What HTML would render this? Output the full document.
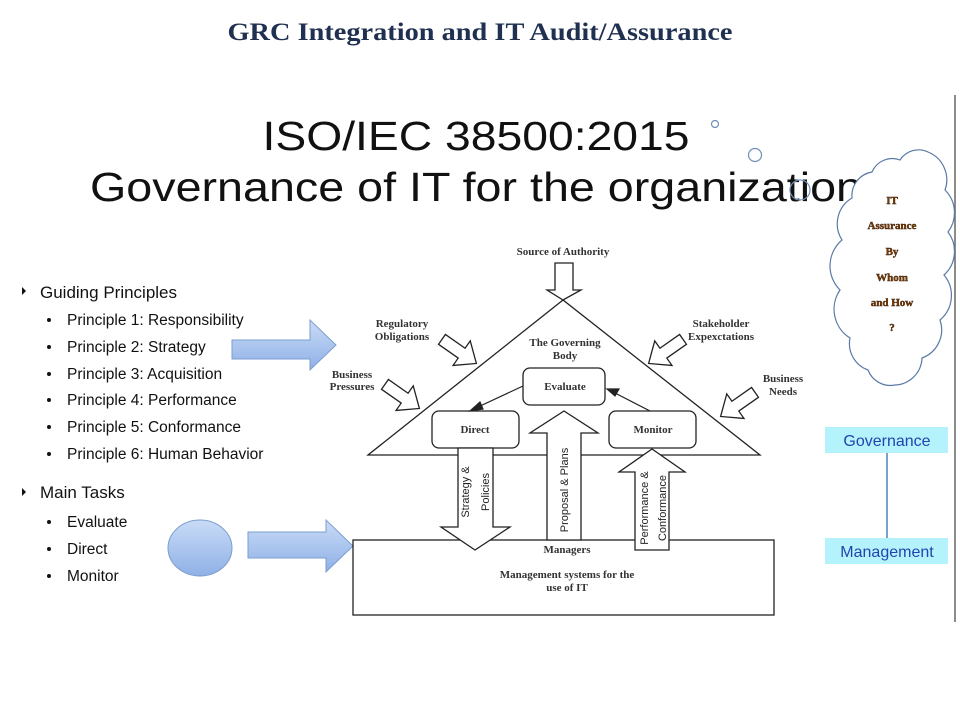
<!DOCTYPE html>
<html><head><meta charset="utf-8"><style>
html,body{margin:0;padding:0;background:#fff;}
svg{display:block;}
</style></head><body>
<svg width="960" height="720" viewBox="0 0 960 720" xmlns="http://www.w3.org/2000/svg">
<rect width="960" height="720" fill="#fff"/>
<text x="480" y="40" text-anchor="middle" font-family="Liberation Serif, serif" font-weight="bold" font-size="25" fill="#1f3050" textLength="505" lengthAdjust="spacingAndGlyphs">GRC Integration and IT Audit/Assurance</text>
<text x="476" y="150" text-anchor="middle" font-family="Liberation Sans, sans-serif" font-size="41" fill="#111" textLength="427" lengthAdjust="spacingAndGlyphs">ISO/IEC 38500:2015</text>
<text x="476" y="201" text-anchor="middle" font-family="Liberation Sans, sans-serif" font-size="41" fill="#111" textLength="772" lengthAdjust="spacingAndGlyphs">Governance of IT for the organization</text>
<line x1="955" y1="95" x2="955" y2="622" stroke="#666" stroke-width="1.5"/>
<g fill="none" stroke="#6f8fb8" stroke-width="1.2">
<circle cx="715" cy="124" r="3.5"/><circle cx="755" cy="155" r="6.5"/><circle cx="800" cy="190" r="10"/>
<path d="M872,172 A22,22 0 0 1 900,160 A22,22 0 0 1 928,152 A30,30 0 0 1 945,190 A32,32 0 0 1 948,232 A32,32 0 0 1 944,275 A32,32 0 0 1 940,320 A30,30 0 0 1 922,358 A28,28 0 0 1 895,385 A24,24 0 0 1 868,370 A28,28 0 0 1 850,338 A34,34 0 0 1 840,290 A34,34 0 0 1 842,240 A30,30 0 0 1 852,198 A24,24 0 0 1 872,172 Z" fill="#fff" stroke="#5a7aa5"/>
</g>
<g font-family="Liberation Serif, serif" font-weight="bold" font-size="11" fill="#7a3a00" stroke="#3a1a00" stroke-width="0.4" text-anchor="middle">
<text x="892" y="204">IT</text><text x="892" y="229">Assurance</text><text x="892" y="255">By</text><text x="892" y="281">Whom</text><text x="892" y="306">and How</text><text x="892" y="331">?</text>
</g>
<line x1="887" y1="453" x2="887" y2="538" stroke="#4f81bd" stroke-width="1.5"/>
<rect x="825" y="427" width="123" height="26" fill="#b4f3fb"/>
<rect x="825" y="538" width="123" height="26" fill="#b4f3fb"/>
<text x="887" y="446" text-anchor="middle" font-family="Liberation Sans, sans-serif" font-size="16" fill="#2344b0">Governance</text>
<text x="887" y="557" text-anchor="middle" font-family="Liberation Sans, sans-serif" font-size="16" fill="#2344b0">Management</text>
<g font-family="Liberation Sans, sans-serif" fill="#111">
<path d="M22,287 L26,291 L22,295 Z"/>
<text x="40" y="298" font-size="17">Guiding Principles</text>
<path d="M22,488 L26,492 L22,496 Z"/>
<text x="40" y="498" font-size="17">Main Tasks</text>
<g font-size="15.5">
<text x="67" y="325">Principle 1: Responsibility</text>
<text x="67" y="352">Principle 2: Strategy</text>
<text x="67" y="379">Principle 3: Acquisition</text>
<text x="67" y="405">Principle 4: Performance</text>
<text x="67" y="432">Principle 5: Conformance</text>
<text x="67" y="459">Principle 6: Human Behavior</text>
<text x="67" y="527">Evaluate</text>
<text x="67" y="554">Direct</text>
<text x="67" y="581">Monitor</text>
</g>
<g><circle cx="49" cy="320" r="2"/><circle cx="49" cy="347" r="2"/><circle cx="49" cy="374" r="2"/><circle cx="49" cy="400" r="2"/><circle cx="49" cy="427" r="2"/><circle cx="49" cy="454" r="2"/><circle cx="49" cy="522" r="2"/><circle cx="49" cy="549" r="2"/><circle cx="49" cy="576" r="2"/></g>
</g>
<defs><linearGradient id="bg" x1="0" y1="0" x2="0" y2="1"><stop offset="0" stop-color="#c9dcf7"/><stop offset="1" stop-color="#8fb0e6"/></linearGradient>
<polygon id="ba" points="-22,-6 2,-6 2,-15 20,0 2,15 2,6 -22,6" fill="#fff" stroke="#222" stroke-width="1.3"/></defs>
<path d="M232,340 L310,340 L310,320 L336,345 L310,370 L310,359 L232,359 Z" fill="url(#bg)" stroke="#7c9dd0"/>
<path d="M248,532 L326,532 L326,520 L353,546 L326,572 L326,558 L248,558 Z" fill="url(#bg)" stroke="#7c9dd0"/>
<ellipse cx="200" cy="548" rx="32" ry="28" fill="url(#bg)" stroke="#7c9dd0"/>
<g fill="#fff" stroke="#222" stroke-width="1.3">
<polygon points="563,300 368,455 760,455"/>
<rect x="353" y="540" width="421" height="75"/>
<polygon points="555,263 573,263 573,290 581,290 563,300 547,290 555,290"/>
<rect x="523" y="368" width="82" height="37" rx="7"/>
<rect x="432" y="411" width="87" height="37" rx="7"/>
<rect x="609" y="411" width="87" height="37" rx="7"/>
<polygon points="458,448 493,448 493,527 510,527 475,550 441,527 458,527"/>
<polygon points="547,540 547,433 530,433 564,411 598,433 581,433 581,540"/>
<polygon points="635,550 635,472 619,472 652,449 685,472 669,472 669,550"/>
</g>
<use href="#ba" transform="translate(460,352) rotate(35)"/>
<use href="#ba" transform="translate(403,397) rotate(35)"/>
<use href="#ba" transform="translate(665,352) rotate(145)"/>
<use href="#ba" transform="translate(737,405) rotate(145)"/>
<g stroke="#222" stroke-width="1.2" fill="#222">
<line x1="523" y1="386" x2="478" y2="407"/><polygon points="470,411 480,402 483,409"/>
<line x1="650" y1="411" x2="615" y2="393"/><polygon points="607,389 619,389 615,396"/>
</g>
<g font-family="Liberation Serif, serif" font-size="11" fill="#333" text-anchor="middle" font-weight="bold">
<text x="563" y="255">Source of Authority</text>
<text x="402" y="327">Regulatory</text><text x="402" y="340">Obligations</text>
<text x="721" y="327">Stakeholder</text><text x="721" y="340">Expexctations</text>
<text x="352" y="378">Business</text><text x="352" y="390">Pressures</text>
<text x="783" y="382">Business</text><text x="783" y="395">Needs</text>
<text x="565" y="346">The Governing</text><text x="565" y="359">Body</text>
<text x="565" y="390">Evaluate</text>
<text x="475" y="433">Direct</text>
<text x="653" y="433">Monitor</text>
<text x="567" y="553">Managers</text>
<text x="567" y="578">Management systems for the</text>
<text x="567" y="591">use of IT</text>
</g>
<g font-family="Liberation Sans Narrow, Liberation Sans, sans-serif" font-size="11" fill="#222" text-anchor="middle">
<text transform="translate(469,492) rotate(-90)">Strategy &amp;</text>
<text transform="translate(489,492) rotate(-90)">Policies</text>
<text transform="translate(568,490) rotate(-90)">Proposal &amp; Plans</text>
<text transform="translate(648,508) rotate(-90)">Performance &amp;</text>
<text transform="translate(666,508) rotate(-90)">Conformance</text>
</g>
</svg>
</body></html>
